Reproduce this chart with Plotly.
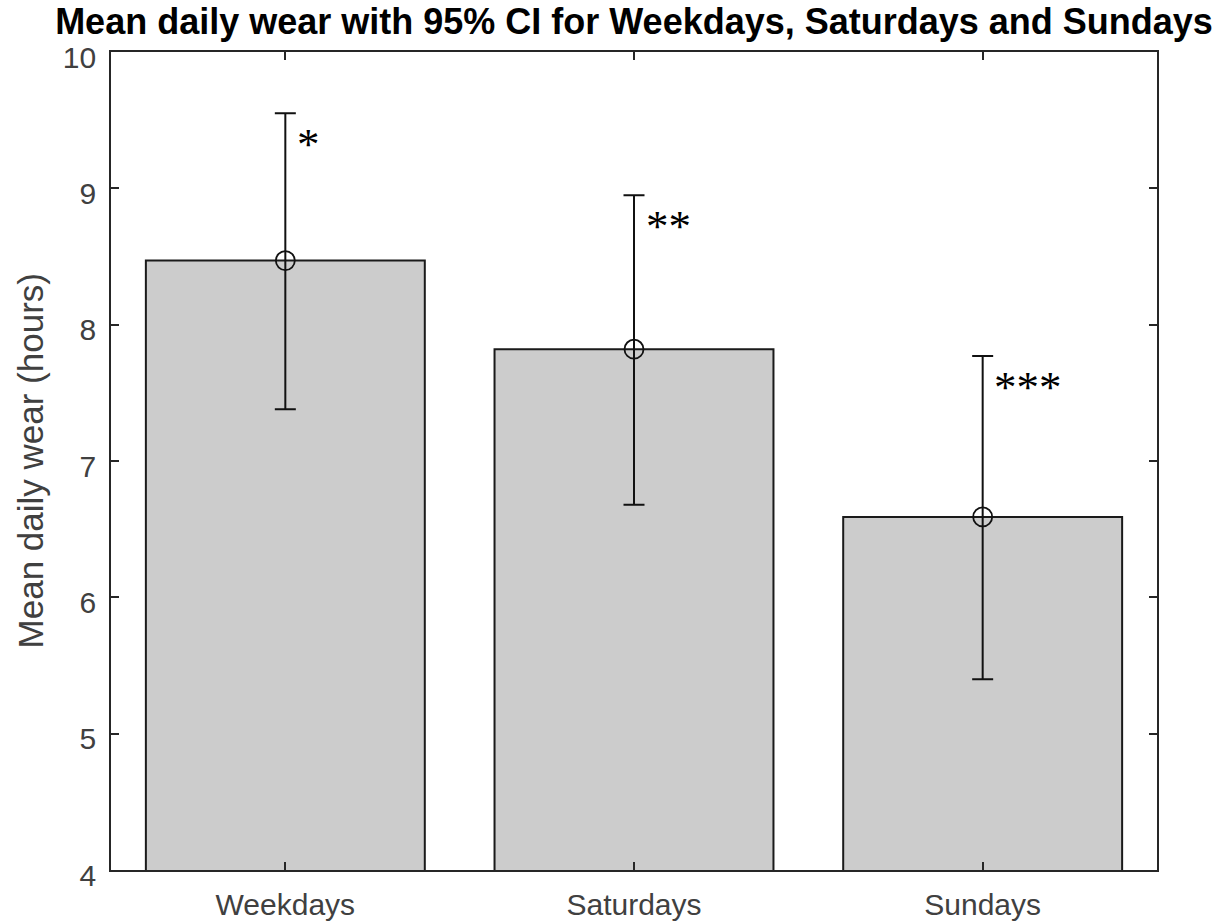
import plotly.graph_objects as go

# Mean daily wear per day type with 95% confidence interval bounds
categories = ["Weekdays", "Saturdays", "Sundays"]
mean_wear = [8.47, 7.82, 6.59]
ci_lower = [7.38, 6.68, 5.40]
ci_upper = [9.55, 8.95, 7.77]
significance = ["*", "**", "***"]
y_ticks = [4, 5, 6, 7, 8, 9, 10]

x_pos = list(range(1, len(categories) + 1))
err_plus = [u - m for u, m in zip(ci_upper, mean_wear)]
err_minus = [m - l for m, l in zip(mean_wear, ci_lower)]

axis_col = "#262626"
sans = "Liberation Sans, Arial, Helvetica, sans-serif"

fig = go.Figure()

fig.add_trace(go.Bar(
    x=x_pos, y=mean_wear, base=0, width=0.8,
    marker=dict(color="#cccccc", line=dict(color="#1a1a1a", width=2)),
    showlegend=False, hoverinfo="skip",
))

fig.add_trace(go.Scatter(
    x=x_pos, y=mean_wear, mode="markers",
    marker=dict(symbol="circle-open", size=19, color="#111111",
                line=dict(width=1.8, color="#111111")),
    error_y=dict(type="data", symmetric=False, array=err_plus,
                 arrayminus=err_minus, color="#111111", thickness=2, width=10.5),
    showlegend=False,
))

# Significance markers beside each upper CI whisker
for xp, up, star in zip(x_pos, ci_upper, significance):
    fig.add_annotation(
        x=xp + 0.028, y=up - 0.03, xref="x", yref="y", text=star, showarrow=False,
        xanchor="left", yanchor="top",
        font=dict(family="Liberation Serif, Times New Roman, serif", size=45, color="#000000"),
    )

fig.add_annotation(
    x=-0.077, y=0.5, xref="paper", yref="paper", text="Mean daily wear (hours)",
    textangle=-90, showarrow=False, xanchor="center", yanchor="middle",
    font=dict(family=sans, size=35, color="#404040"),
)

fig.update_layout(
    width=1220, height=923,
    margin=dict(l=111, r=63, t=52, b=53, autoexpand=False),
    paper_bgcolor="white", plot_bgcolor="white",
    title=dict(text="<b>Mean daily wear with 95% CI for Weekdays, Saturdays and Sundays</b>",
               x=634 / 1220, xanchor="center", xref="container",
               y=1 - 21 / 923, yanchor="middle", yref="container",
               font=dict(family=sans, size=36, color="#000000")),
    xaxis=dict(range=[0.5, 3.5], tickvals=x_pos, ticktext=categories,
               ticks="inside", ticklen=8, tickwidth=1.5, tickcolor=axis_col,
               showline=True, linecolor=axis_col, linewidth=1.8, mirror="ticks",
               showgrid=False, zeroline=False, ticklabelstandoff=7,
               tickfont=dict(family=sans, size=30, color="#404040")),
    yaxis=dict(range=[4, 10], tickvals=y_ticks,
               ticks="inside", ticklen=8, tickwidth=1.5, tickcolor=axis_col,
               showline=True, linecolor=axis_col, linewidth=1.8, mirror="ticks",
               showgrid=False, zeroline=False, ticklabelstandoff=7, ticklabelshift=5,
               tickfont=dict(family=sans, size=30, color="#404040")),
)

fig.write_html("out.html")
